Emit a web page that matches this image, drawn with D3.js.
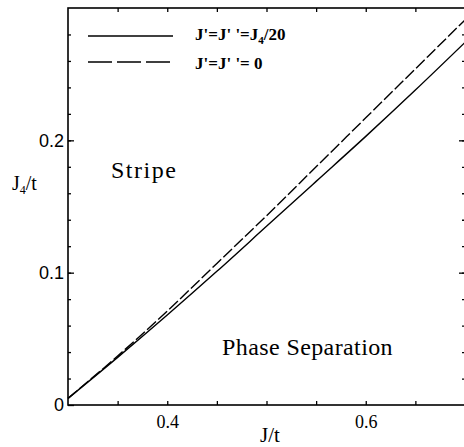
<!DOCTYPE html>
<html>
<head>
<meta charset="utf-8">
<script src="https://cdn.jsdelivr.net/npm/d3@7"></script>
<style>
  body { margin: 0; background: #fff; }
  .tk text { font-family: "Liberation Sans", Arial, sans-serif; }
  .serif { font-family: "Liberation Serif", "Times New Roman", serif; }
</style>
</head>
<body>
<div id="chart"></div>
<script>
// J/t values along the boundary
const jx = [0.30, 0.35, 0.40, 0.45, 0.50, 0.55, 0.60, 0.65, 0.70];
// J4/t on the boundary, J' = J'' = J4/20 (solid)
const boundaryQuarter = [0.005, 0.036, 0.068, 0.101, 0.135, 0.169, 0.203, 0.238, 0.274];
// J4/t on the boundary, J' = J'' = 0 (dashed)
const boundaryZero = [0.005, 0.037, 0.071, 0.107, 0.143, 0.180, 0.217, 0.254, 0.291];

const xTicks = [0.35, 0.40, 0.45, 0.50, 0.55, 0.60, 0.65];
const xLabels = [0.4, 0.6];
const yMinor = d3.range(0.02, 0.30, 0.02);
const yMajor = [0, 0.1, 0.2];

const W = 464, H = 447;
const margin = {top: 8, right: -1, bottom: 42, left: 68};

const svg = d3.select("#chart").append("svg")
    .attr("width", W)
    .attr("height", H);

const x = d3.scaleLinear().domain([0.3, 0.7]).range([margin.left, W - margin.right]);
const y = d3.scaleLinear().domain([0, 0.3]).range([H - margin.bottom, margin.top]);

// frame
svg.append("rect")
    .attr("x", x(0.3)).attr("y", y(0.3))
    .attr("width", x(0.7) - x(0.3)).attr("height", y(0) - y(0.3))
    .attr("fill", "none").attr("stroke", "#000").attr("stroke-width", 1.6);

function styleAxis(g) {
    g.select(".domain").remove();
    g.selectAll("line").attr("stroke", "#000").attr("stroke-width", 1.3);
}

// bottom + top ticks
svg.append("g")
    .attr("transform", `translate(0,${y(0)})`)
    .call(d3.axisBottom(x).tickValues(xTicks).tickSize(-4).tickPadding(10)
        .tickFormat(d => xLabels.some(v => Math.abs(v - d) < 1e-9) ? d3.format(".1f")(d) : ""))
    .call(styleAxis)
    .selectAll("text")
    .style("font-family", "'Liberation Serif', 'Times New Roman', serif")
    .attr("font-size", 18).attr("fill", "#000");

svg.append("g").attr("class", "tk")
    .attr("transform", `translate(0,${y(0.3)})`)
    .call(d3.axisTop(x).tickValues(xTicks).tickSize(-4).tickFormat(""))
    .call(styleAxis);

// left ticks
svg.append("g").attr("class", "tk")
    .attr("transform", `translate(${x(0.3)},0)`)
    .call(d3.axisLeft(y).tickValues(yMinor).tickSize(-3).tickFormat(""))
    .call(styleAxis);

svg.append("g").attr("class", "tk")
    .attr("transform", `translate(${x(0.3)},0)`)
    .call(d3.axisLeft(y).tickValues(yMajor).tickSize(-6).tickPadding(4)
        .tickFormat(d => d === 0 ? "0" : d3.format(".1f")(d)))
    .call(styleAxis)
    .selectAll("text").attr("font-size", 18).attr("fill", "#000");

// right ticks
svg.append("g").attr("class", "tk")
    .attr("transform", `translate(${x(0.7)},0)`)
    .call(d3.axisRight(y).tickValues(yMinor).tickSize(-3).tickFormat(""))
    .call(styleAxis);

svg.append("g").attr("class", "tk")
    .attr("transform", `translate(${x(0.7)},0)`)
    .call(d3.axisRight(y).tickValues(yMajor.slice(1)).tickSize(-6).tickFormat(""))
    .call(styleAxis);

// curves
const line = d3.line().x((d, i) => x(jx[i])).y(d => y(d)).curve(d3.curveMonotoneX);

svg.append("path")
    .datum(boundaryQuarter)
    .attr("d", line)
    .attr("fill", "none").attr("stroke", "#000").attr("stroke-width", 1.4);

svg.append("path")
    .datum(boundaryZero)
    .attr("d", line)
    .attr("fill", "none").attr("stroke", "#000").attr("stroke-width", 1.4)
    .attr("stroke-dasharray", "12,3");

// legend
const legend = svg.append("g");
legend.append("line").attr("x1", 88).attr("x2", 173).attr("y1", 36).attr("y2", 36)
    .attr("stroke", "#000").attr("stroke-width", 1.6);
legend.append("line").attr("x1", 88).attr("x2", 173).attr("y1", 62).attr("y2", 62)
    .attr("stroke", "#000").attr("stroke-width", 1.6).attr("stroke-dasharray", "24,5");

const t1 = legend.append("text").attr("class", "serif").attr("x", 195).attr("y", 40)
    .attr("font-size", 17).attr("font-weight", "bold");
t1.append("tspan").text("J'=J' '=J");
t1.append("tspan").attr("font-size", 11).attr("dy", 4).text("4");
t1.append("tspan").attr("dy", -4).text("/20");

legend.append("text").attr("class", "serif").attr("x", 195).attr("y", 69)
    .attr("font-size", 17).attr("font-weight", "bold")
    .text("J'=J' '= 0");

// region labels
svg.append("text").attr("class", "serif").attr("x", 111).attr("y", 178)
    .attr("font-size", 24).attr("letter-spacing", 1.5).text("Stripe");
svg.append("text").attr("class", "serif").attr("x", 222).attr("y", 355)
    .attr("font-size", 24).attr("letter-spacing", 0.4).text("Phase Separation");

// axis titles
const yl = svg.append("text").attr("class", "serif").attr("x", 12).attr("y", 190)
    .attr("font-size", 20);
yl.append("tspan").text("J");
yl.append("tspan").attr("font-size", 12).attr("dy", 4).text("4");
yl.append("tspan").attr("dy", -4).text("/t");

svg.append("text").attr("class", "serif").attr("x", 270).attr("y", 442)
    .attr("text-anchor", "middle").attr("font-size", 21).text("J/t");
</script>
</body>
</html>
